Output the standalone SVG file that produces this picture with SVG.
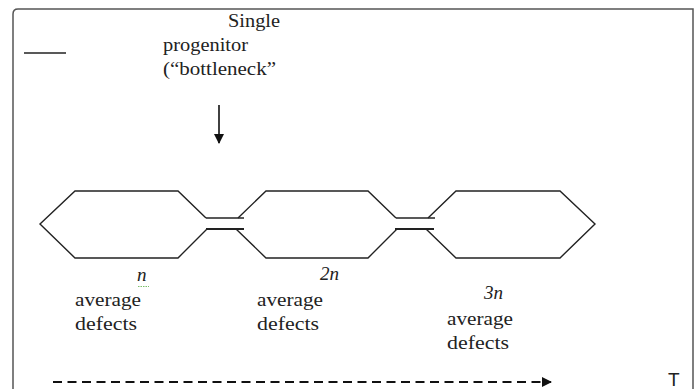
<svg xmlns="http://www.w3.org/2000/svg" width="698" height="389" viewBox="0 0 698 389">
<defs>
<style>
text.t{font-family:"Liberation Serif","Times New Roman",serif;font-size:19px;fill:#222}
text.i{font-style:italic}
.s{fill:none;stroke:#222;stroke-width:1.4;stroke-linejoin:miter}
</style>
<marker id="ah" markerWidth="10" markerHeight="10" refX="9" refY="5" orient="auto" markerUnits="userSpaceOnUse">
<path d="M0,0 L10,5 L0,10 Z" fill="#111"/>
</marker>
</defs>
<rect width="698" height="389" fill="#fff"/>
<path d="M13,389 V14 Q13,9 18,9 H693 V389" fill="none" stroke="#555" stroke-width="1.5"/>
<line x1="24" y1="53" x2="66" y2="53" stroke="#222" stroke-width="1.6"/>
<g id="label-progenitor" font-family="Liberation Serif, Times New Roman, serif">
<text class="t" x="228" y="27" textLength="52" lengthAdjust="spacingAndGlyphs">Single</text>
<text class="t" x="163" y="51" textLength="85" lengthAdjust="spacingAndGlyphs">progenitor</text>
<text class="t" x="163" y="75" textLength="113" lengthAdjust="spacingAndGlyphs">(“bottleneck”</text>
</g>
<g id="hex1">
<path class="s" d="M206,218 L178,191 L75,191 L40,224 L75,258 L178,258 L207,229"/>
</g>
<g id="hex2">
<path class="s" d="M238,218 L266,191 L368,191 L396,218"/>
<path class="s" d="M397,229 L368,258 L266,258 L236,229"/>
</g>
<g id="hex3">
<path class="s" d="M428,218 L456,191 L560,191 L595,224 L560,258 L456,258 L426,229"/>
</g>
<g id="connectors">
<line x1="206" y1="218" x2="244" y2="218" stroke="#222" stroke-width="1.6"/>
<line x1="206" y1="229" x2="244" y2="229" stroke="#222" stroke-width="2"/>
<line x1="396" y1="218" x2="435" y2="218" stroke="#222" stroke-width="1.6"/>
<line x1="395" y1="229" x2="434" y2="229" stroke="#222" stroke-width="2"/>
<line x1="219" y1="105" x2="219" y2="143" stroke="#111" stroke-width="1.6" marker-end="url(#ah)"/>
<line x1="53" y1="382" x2="551" y2="382" stroke="#111" stroke-width="2" stroke-dasharray="9 5.5" marker-end="url(#ah)"/>
</g>
<g id="label1" font-family="Liberation Serif, Times New Roman, serif">
<text class="t i" x="137" y="281">n</text>
<line x1="138" y1="286.5" x2="149" y2="286.5" stroke="#7cbf6a" stroke-width="1" stroke-dasharray="1.5 1"/>
<text class="t" x="75" y="306" textLength="66" lengthAdjust="spacingAndGlyphs">average</text>
<text class="t" x="75" y="330" textLength="62" lengthAdjust="spacingAndGlyphs">defects</text>
</g>
<g id="label2" font-family="Liberation Serif, Times New Roman, serif">
<text class="t i" x="320" y="280">2n</text>
<text class="t" x="257" y="306" textLength="66" lengthAdjust="spacingAndGlyphs">average</text>
<text class="t" x="257" y="330" textLength="62" lengthAdjust="spacingAndGlyphs">defects</text>
</g>
<g id="label3" font-family="Liberation Serif, Times New Roman, serif">
<text class="t i" x="484" y="299">3n</text>
<text class="t" x="447" y="325" textLength="66" lengthAdjust="spacingAndGlyphs">average</text>
<text class="t" x="447" y="349" textLength="62" lengthAdjust="spacingAndGlyphs">defects</text>
</g>
<text x="668" y="386" font-family="Liberation Sans, Arial, sans-serif" font-size="19" fill="#222">T</text>
</svg>
